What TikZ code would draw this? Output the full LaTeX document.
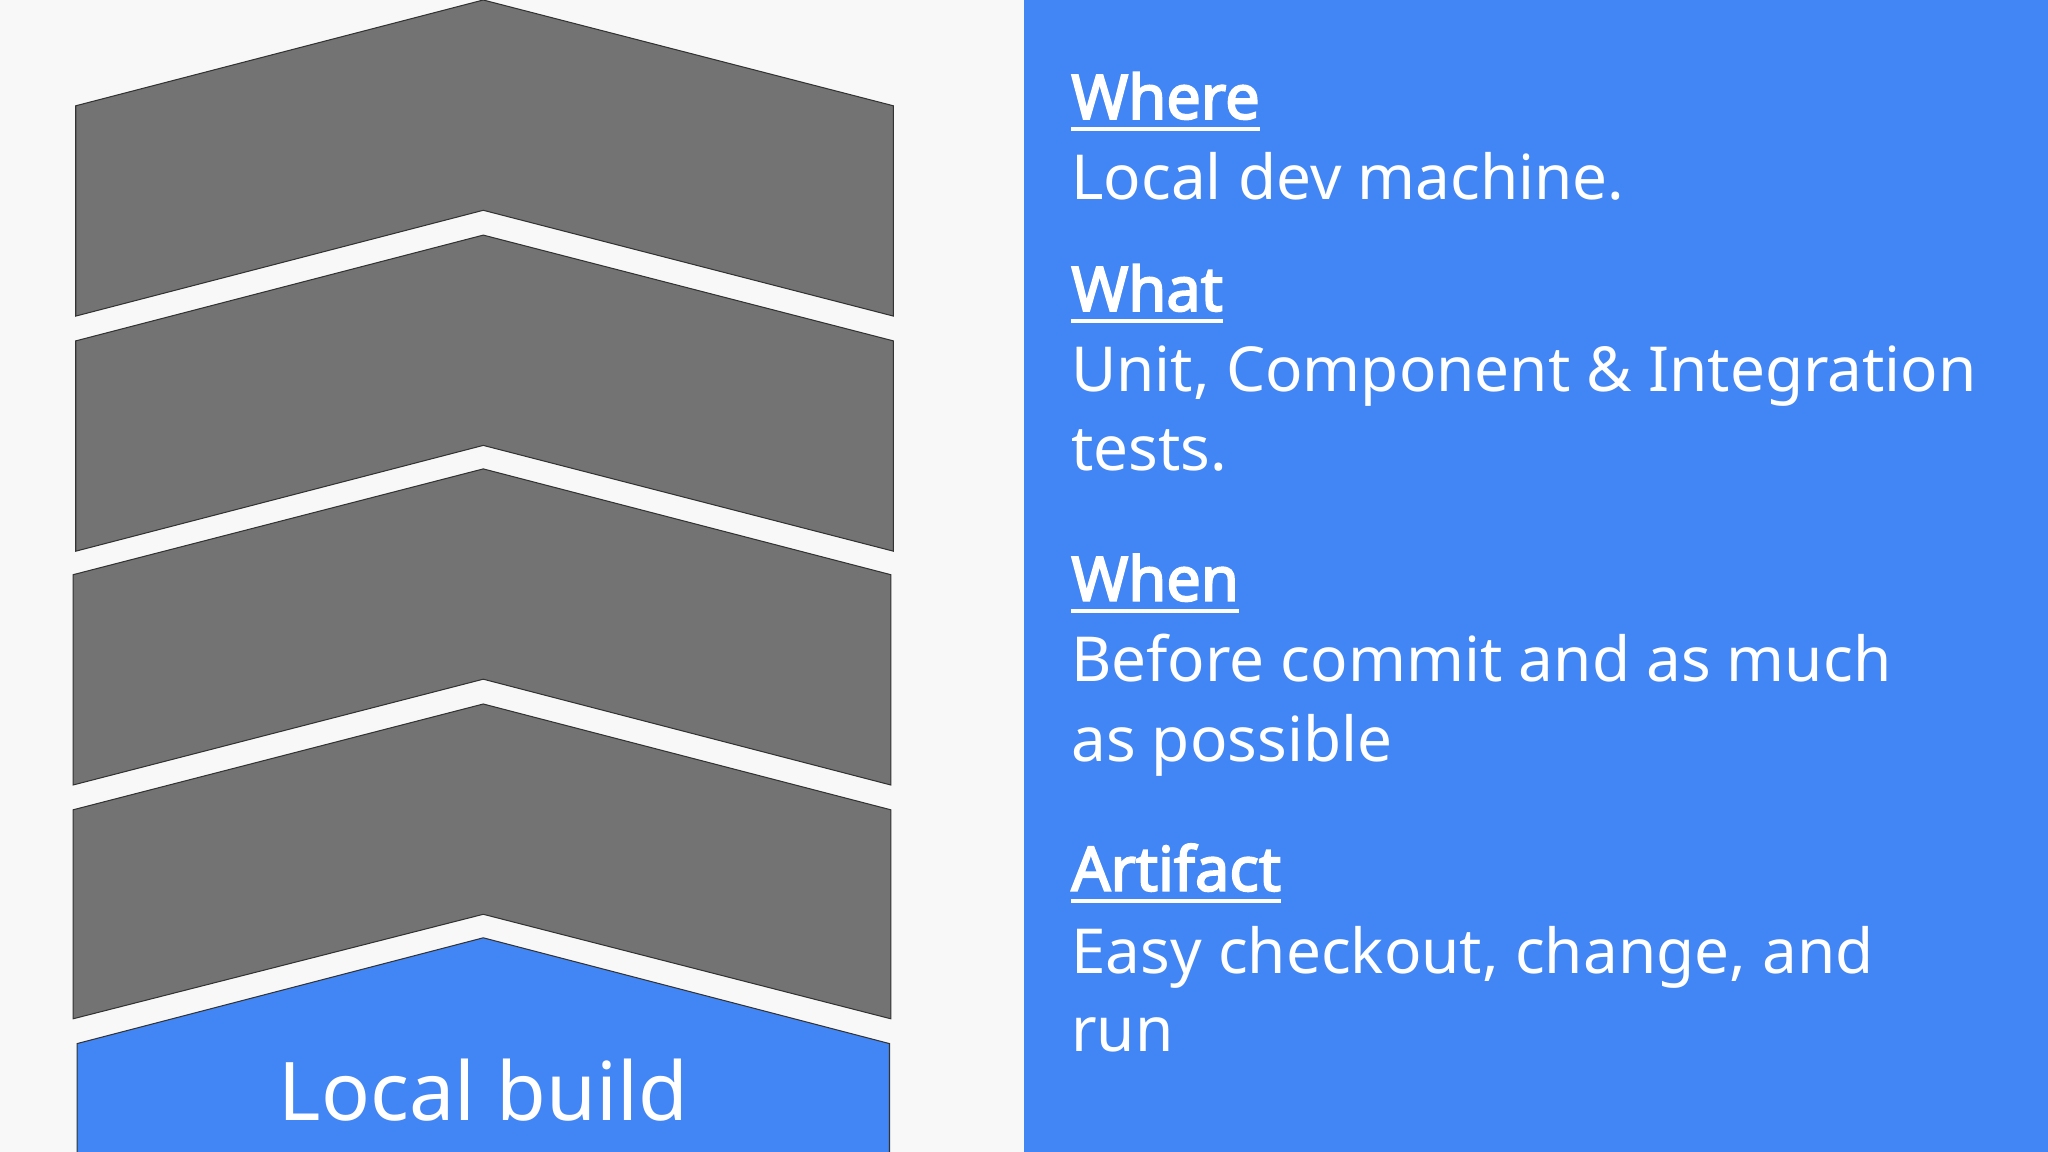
\documentclass[tikz,border=0pt]{standalone}
\usepackage{fontspec}
\setmainfont{Noto Sans}[BoldFont={Noto Sans},BoldFeatures={FakeBold=3}]
\definecolor{gblue}{HTML}{4285F4}
\definecolor{bg}{HTML}{F8F8F8}
\definecolor{chev}{HTML}{737373}
\begin{document}
\begin{tikzpicture}[x=1pt,y=-1pt,
  chevron/.style={fill=chev,draw=black!80,line width=0.8pt},
  head/.style={anchor=base west,inner sep=0pt,font=\fontsize{47}{50}\selectfont\bfseries,text=white},
  body/.style={anchor=base west,inner sep=0pt,font=\fontsize{47.5}{50}\selectfont,text=white},
  uline/.style={draw=white,line width=3pt}]
\useasboundingbox (0,0) rectangle (1568,882);
\fill[bg] (0,0) rectangle (1568,882);
\fill[gblue] (784,0) rectangle (1568,882);
\draw[chevron] (58,81) -- (370,0) -- (684,81) -- (684,242) -- (370,161) -- (58,242) -- cycle;
\draw[chevron] (58,261) -- (370,180) -- (684,261) -- (684,422) -- (370,341) -- (58,422) -- cycle;
\draw[chevron] (56,440) -- (370,359) -- (682,440) -- (682,601) -- (370,520) -- (56,601) -- cycle;
\draw[chevron] (56,620) -- (370,539) -- (682,620) -- (682,780) -- (370,700) -- (56,780) -- cycle;
\draw[fill=gblue,draw=black!80,line width=0.8pt] (59,882) -- (59,799) -- (370,718) -- (681,799) -- (681,882);
\node[anchor=base,inner sep=0pt,text=white,font=\fontsize{62}{66}\selectfont] (lb) at (370,858) {Local build};
\node[head] (h1) at (820,91) {Where};
\node[body] (b1) at (820,153) {Local dev machine.};
\node[head] (h2) at (820,238) {What};
\node[body] (b2) at (820,300) {Unit, Component \& Integration};
\node[body] (b2b) at (820,360) {tests.};
\node[head] (h3) at (820,460) {When};
\node[body] (b3) at (820,522) {Before commit and as much};
\node[body] (b3b) at (820,583) {as possible};
\node[head] (h4) at (820,682) {Artifact};
\node[body] (b4) at (820,745) {Easy checkout, change, and};
\node[body] (b4b) at (820,805) {run};
\foreach \h in {h1,h2,h3,h4}{\draw[uline] ([yshift=-8pt]\h.base west) -- ([yshift=-8pt]\h.base east);}
\end{tikzpicture}
\end{document}
